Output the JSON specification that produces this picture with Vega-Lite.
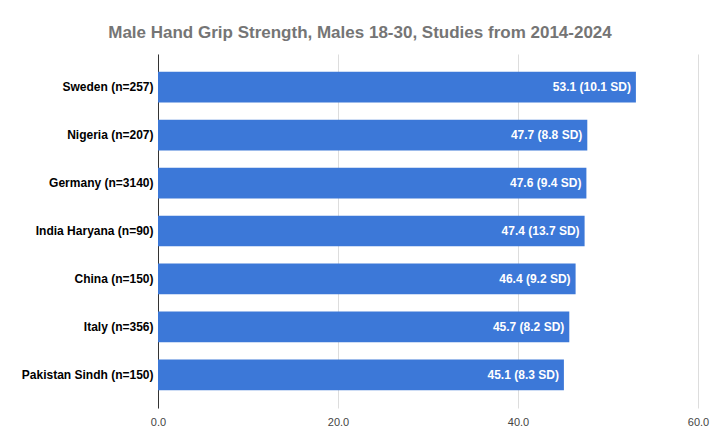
{
  "$schema": "https://vega.github.io/schema/vega-lite/v6.json",
  "width": 540,
  "height": 354,
  "autosize": {"type": "none"},
  "padding": {"left": 158, "top": 54, "right": 22, "bottom": 37},
  "background": "white",
  "title": {
    "text": "Male Hand Grip Strength, Males 18-30, Studies from 2014-2024",
    "anchor": "middle",
    "dx": -68,
    "offset": 12,
    "fontSize": 17,
    "fontWeight": "bold",
    "font": "Liberation Sans",
    "color": "#757575"
  },
  "data": {
    "values": [
      {"country": "Sweden (n=257)", "grip": 53.1, "label": "53.1 (10.1 SD)"},
      {"country": "Nigeria (n=207)", "grip": 47.7, "label": "47.7 (8.8 SD)"},
      {"country": "Germany (n=3140)", "grip": 47.6, "label": "47.6 (9.4 SD)"},
      {"country": "India Haryana (n=90)", "grip": 47.4, "label": "47.4 (13.7 SD)"},
      {"country": "China (n=150)", "grip": 46.4, "label": "46.4 (9.2 SD)"},
      {"country": "Italy (n=356)", "grip": 45.7, "label": "45.7 (8.2 SD)"},
      {"country": "Pakistan Sindh (n=150)", "grip": 45.1, "label": "45.1 (8.3 SD)"}
    ]
  },
  "encoding": {
    "y": {
      "field": "country",
      "type": "nominal",
      "sort": null,
      "title": null,
      "scale": {"paddingInner": 0.36, "paddingOuter": 0.37},
      "axis": {
        "ticks": false,
        "domain": true,
        "domainColor": "#333333",
        "labelFont": "Liberation Sans",
        "labelFontSize": 12,
        "labelFontWeight": "bold",
        "labelColor": "#000000",
        "labelPadding": 5
      }
    },
    "x": {
      "field": "grip",
      "type": "quantitative",
      "title": null,
      "scale": {"domain": [0, 60]},
      "axis": {
        "values": [0, 20, 40, 60],
        "format": ".1f",
        "ticks": false,
        "domain": false,
        "grid": true,
        "gridColor": "#dddddd",
        "labelFlush": false,
        "labelFont": "Liberation Sans",
        "labelFontSize": 11,
        "labelColor": "#444444",
        "labelPadding": 8
      }
    }
  },
  "layer": [
    {"mark": {"type": "bar", "color": "#3c78d8"}},
    {
      "mark": {
        "type": "text",
        "align": "right",
        "dx": -5,
        "color": "white",
        "font": "Liberation Sans",
        "fontSize": 12,
        "fontWeight": "bold"
      },
      "encoding": {"text": {"field": "label", "type": "nominal"}}
    }
  ],
  "config": {"view": {"stroke": null}}
}
